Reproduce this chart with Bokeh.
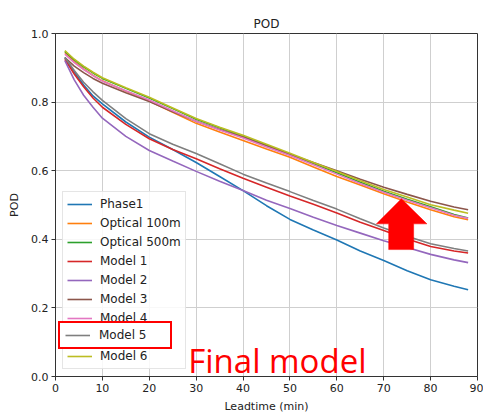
from bokeh.plotting import figure
from bokeh.models import (Range1d, FixedTicker, NumeralTickFormatter, Legend, Label)
from bokeh.embed import file_html
from bokeh.resources import INLINE

# ---- data ----
leadtime = [2, 4, 6, 8, 10, 15, 20, 25, 30, 35, 40, 45, 50, 55, 60, 65, 70, 75, 80, 85, 88]

phase1 = [0.930, 0.888, 0.850, 0.818, 0.795, 0.742, 0.698, 0.662, 0.624, 0.583, 0.542,
          0.498, 0.458, 0.427, 0.398, 0.366, 0.338, 0.308, 0.282, 0.263, 0.253]
optical_100m = [0.945, 0.918, 0.897, 0.878, 0.862, 0.832, 0.803, 0.770, 0.738, 0.713, 0.688,
                0.663, 0.639, 0.611, 0.583, 0.558, 0.533, 0.509, 0.486, 0.466, 0.457]
optical_500m = [0.948, 0.923, 0.903, 0.885, 0.869, 0.840, 0.812, 0.781, 0.750, 0.725, 0.700,
                0.674, 0.648, 0.621, 0.594, 0.566, 0.540, 0.517, 0.495, 0.472, 0.462]
model1 = [0.925, 0.882, 0.845, 0.812, 0.785, 0.735, 0.693, 0.662, 0.635, 0.606, 0.578,
          0.552, 0.526, 0.502, 0.477, 0.450, 0.426, 0.401, 0.379, 0.366, 0.360]
model2 = [0.921, 0.865, 0.820, 0.785, 0.753, 0.700, 0.659, 0.628, 0.598, 0.569, 0.542,
          0.514, 0.490, 0.464, 0.440, 0.418, 0.396, 0.376, 0.356, 0.340, 0.332]
model3 = [0.930, 0.905, 0.886, 0.869, 0.855, 0.827, 0.802, 0.772, 0.744, 0.720, 0.698,
          0.673, 0.648, 0.624, 0.600, 0.575, 0.552, 0.531, 0.511, 0.494, 0.486]
model4 = [0.940, 0.915, 0.895, 0.877, 0.861, 0.833, 0.806, 0.775, 0.744, 0.719, 0.695,
          0.669, 0.644, 0.617, 0.590, 0.563, 0.537, 0.514, 0.492, 0.470, 0.461]
model5 = [0.930, 0.892, 0.858, 0.830, 0.805, 0.752, 0.708, 0.677, 0.650, 0.620, 0.590,
          0.564, 0.539, 0.513, 0.488, 0.460, 0.433, 0.409, 0.387, 0.373, 0.366]
model6 = [0.950, 0.925, 0.905, 0.887, 0.871, 0.842, 0.814, 0.783, 0.752, 0.727, 0.703,
          0.677, 0.651, 0.624, 0.598, 0.571, 0.545, 0.523, 0.501, 0.485, 0.476]

series_names = ["Phase1", "Optical 100m", "Optical 500m", "Model 1", "Model 2",
                "Model 3", "Model 4", "Model 5", "Model 6"]
series_values = [phase1, optical_100m, optical_500m, model1, model2,
                 model3, model4, model5, model6]
series_colors = ["#1f77b4", "#ff7f0e", "#2ca02c", "#d62728", "#9467bd",
                 "#8c564b", "#e377c2", "#7f7f7f", "#bcbd22"]
highlighted = "Model 5"

x_ticks = [0, 10, 20, 30, 40, 50, 60, 70, 80, 90]
y_ticks = [0.0, 0.2, 0.4, 0.6, 0.8, 1.0]

# annotation geometry (data units)
arrow_x = [73.77, 79.21, 76.38, 76.38, 71.06, 71.06, 68.45]
arrow_y = [0.518, 0.445, 0.445, 0.370, 0.370, 0.445, 0.445]
note_x, note_y = 28.3, 0.016

FONT = "DejaVu Sans"

p = figure(width=483, height=415, output_backend="svg", toolbar_location=None,
           x_range=Range1d(0, 90), y_range=Range1d(0, 1),
           min_border_left=55, min_border_right=6, min_border_top=33, min_border_bottom=39,
           title="POD")
p.title.align = "center"
p.title.text_font = FONT
p.title.text_font_size = "12px"
p.title.text_font_style = "normal"
p.title.text_color = "#222222"
p.title.standoff = 6

p.background_fill_color = "white"
p.border_fill_color = "white"
p.outline_line_color = "#333333"
p.outline_line_width = 1

for ax in (p.xaxis[0], p.yaxis[0]):
    ax.major_label_text_font = FONT
    ax.major_label_text_font_size = "11px"
    ax.major_label_text_color = "#222222"
    ax.axis_label_text_font = FONT
    ax.axis_label_text_font_size = "11px"
    ax.axis_label_text_font_style = "normal"
    ax.axis_label_text_color = "#222222"
    ax.axis_line_color = "#333333"
    ax.major_tick_line_color = "#333333"
    ax.major_tick_out = 4
    ax.major_tick_in = 0
    ax.minor_tick_line_color = None
    ax.major_label_standoff = 3

p.xaxis.ticker = FixedTicker(ticks=x_ticks)
p.yaxis.ticker = FixedTicker(ticks=y_ticks)
p.yaxis.formatter = NumeralTickFormatter(format="0.0")
p.xaxis.axis_label = "Leadtime (min)"
p.yaxis.axis_label = "POD"
p.xaxis.axis_label_standoff = 5
p.yaxis.axis_label_standoff = 7

p.xgrid.ticker = FixedTicker(ticks=x_ticks)
p.ygrid.ticker = FixedTicker(ticks=y_ticks)
p.grid.grid_line_color = "#cfcfcf"
p.grid.grid_line_width = 1

items = []
hl_item = None
for name, vals, col in zip(series_names, series_values, series_colors):
    r = p.line(leadtime, vals, line_color=col, line_width=1.6)
    if name == highlighted:
        # the highlighted entry is drawn by the framed legend below
        items.append((" ", [r]))
        hl_item = (name, [r])
    else:
        items.append((name, [r]))


def style_legend(lg):
    lg.label_text_font = FONT
    lg.label_text_font_size = "12px"
    lg.label_text_color = "#222222"
    lg.glyph_width = 25
    lg.margin = 0


legend = Legend(items=items, location=(7, 7))
style_legend(legend)
legend.label_height = 16
legend.glyph_height = 16
legend.label_standoff = 8
legend.spacing = 3
legend.padding = 4
legend.border_line_color = "#cccccc"
legend.border_line_width = 1
legend.background_fill_alpha = 0.85
p.add_layout(legend, "center")

# red frame around the "Model 5" entry (drawn as an overlaid one-item legend)
hl = Legend(items=[hl_item], location=(3, 27))
style_legend(hl)
hl.label_height = 12
hl.glyph_height = 12
hl.label_standoff = 9
hl.padding = 5
hl.label_width = 66
hl.border_line_color = "#ff0000"
hl.border_line_alpha = 1.0
hl.border_line_width = 2.5
hl.background_fill_color = "white"
hl.background_fill_alpha = 1.0
p.add_layout(hl, "center")

# red arrow
p.patch(arrow_x, arrow_y, fill_color="#ff0000", line_color="#ff0000", line_width=0.5)

# "Final model" note
p.add_layout(Label(x=note_x, y=note_y, y_offset=11, text="Final model", text_color="#ff0000",
                   text_font="Open Sans", text_font_size="33px",
                   text_baseline="alphabetic", text_align="left", level="overlay"))

open("out.html", "w").write(file_html(p, INLINE))
